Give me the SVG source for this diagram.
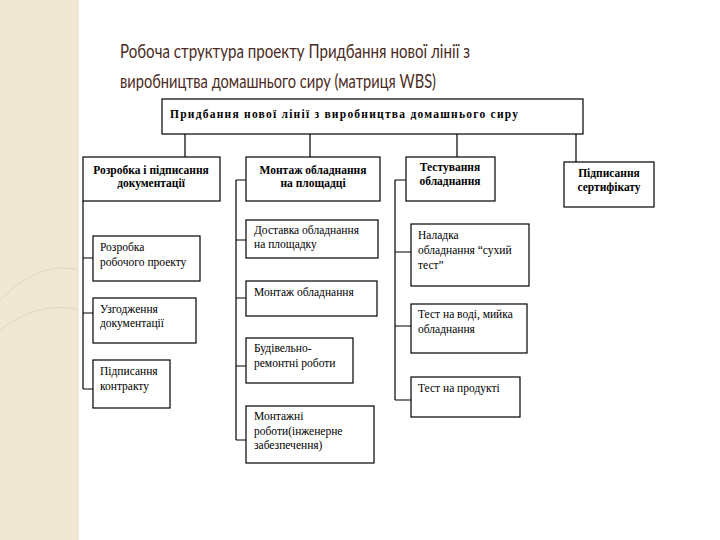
<svg xmlns="http://www.w3.org/2000/svg" width="720" height="540" viewBox="0 0 720 540">
<style>
.b{fill:#fff;stroke:#000;stroke-width:1.2}
.t{font-family:"Liberation Serif",serif;font-size:11.5px;fill:#000}
.h{font-weight:bold}
.c{stroke:#000;stroke-width:1.2;fill:none}
.ttl{font-family:Lato,"Open Sans",sans-serif;font-size:19px;fill:#4a2a22}
</style>
<rect width="720" height="540" fill="#fff"/>
<rect x="0" y="0" width="78" height="540" fill="#f1e8d4"/>
<path d="M0 300 Q40 260 78 270 M0 330 Q40 300 78 310" stroke="#e4d6b8" fill="none"/>
<line x1="78" y1="0" x2="78" y2="540" stroke="#e8dcc2"/>
<text class="ttl" x="120" y="58" textLength="350" lengthAdjust="spacingAndGlyphs">Робоча структура проекту Придбання нової лінії з</text>
<text class="ttl" x="120" y="88" textLength="316" lengthAdjust="spacingAndGlyphs">виробництва домашнього сиру (матриця WBS)</text>
<g id="connectors">
<path class="c" d="M185 134V157M310 134V157M457 134V157M576 134V162"/>
<path class="c" d="M83 201V389M83 258H93M83 313H93M83 389H93"/>
<path class="c" d="M236 180V440M236 180H246M236 240H246M236 298H246M236 366H246M236 440H246"/>
<path class="c" d="M395 180V400M395 180H406M395 252H411M395 326H411M395 400H411"/>
</g>
<g id="root"><rect class="b" x="162" y="99" width="421" height="35"/><text class="t h" x="170" y="118" textLength="348">Придбання нової лінії з виробництва домашнього сиру</text></g>
<g id="n1"><rect class="b" x="83" y="157" width="137" height="44"/><text class="t h" text-anchor="middle" x="151" y="174">Розробка і підписання</text><text class="t h" text-anchor="middle" x="151" y="187">документації</text></g>
<g id="n2"><rect class="b" x="246" y="157" width="134" height="44"/><text class="t h" text-anchor="middle" x="313" y="174">Монтаж обладнання</text><text class="t h" text-anchor="middle" x="313" y="187">на площадці</text></g>
<g id="n3"><rect class="b" x="406" y="157" width="89" height="44"/><text class="t h" text-anchor="middle" x="450" y="171">Тестування</text><text class="t h" text-anchor="middle" x="450" y="185">обладнання</text></g>
<g id="n4"><rect class="b" x="564" y="162" width="90" height="45"/><text class="t h" text-anchor="middle" x="609" y="177">Підписання</text><text class="t h" text-anchor="middle" x="609" y="191">сертифікату</text></g>
<g id="n11"><rect class="b" x="93" y="236" width="107" height="45"/><text class="t" x="100" y="251">Розробка</text><text class="t" x="100" y="266">робочого проекту</text></g>
<g id="n12"><rect class="b" x="93" y="298" width="103" height="45"/><text class="t" x="100" y="313">Узгодження</text><text class="t" x="100" y="327">документації</text></g>
<g id="n13"><rect class="b" x="93" y="360" width="77" height="48"/><text class="t" x="100" y="375">Підписання</text><text class="t" x="100" y="390">контракту</text></g>
<g id="n21"><rect class="b" x="246" y="220" width="132" height="38"/><text class="t" x="254" y="234">Доставка обладнання</text><text class="t" x="254" y="248">на площадку</text></g>
<g id="n22"><rect class="b" x="246" y="281" width="131" height="35"/><text class="t" x="254" y="296">Монтаж обладнання</text></g>
<g id="n23"><rect class="b" x="246" y="338" width="107" height="45"/><text class="t" x="254" y="352">Будівельно-</text><text class="t" x="254" y="367">ремонтні роботи</text></g>
<g id="n24"><rect class="b" x="246" y="406" width="128" height="57"/><text class="t" x="254" y="420">Монтажні</text><text class="t" x="254" y="435">роботи(інженерне</text><text class="t" x="254" y="449">забезпечення)</text></g>
<g id="n31"><rect class="b" x="411" y="224" width="118" height="62"/><text class="t" x="418" y="239">Наладка</text><text class="t" x="418" y="254">обладнання “сухий</text><text class="t" x="418" y="269">тест”</text></g>
<g id="n32"><rect class="b" x="411" y="304" width="116" height="49"/><text class="t" x="418" y="318">Тест на воді, мийка</text><text class="t" x="418" y="333">обладнання</text></g>
<g id="n33"><rect class="b" x="411" y="377" width="109" height="40"/><text class="t" x="418" y="392">Тест на продукті</text></g>
</svg>
